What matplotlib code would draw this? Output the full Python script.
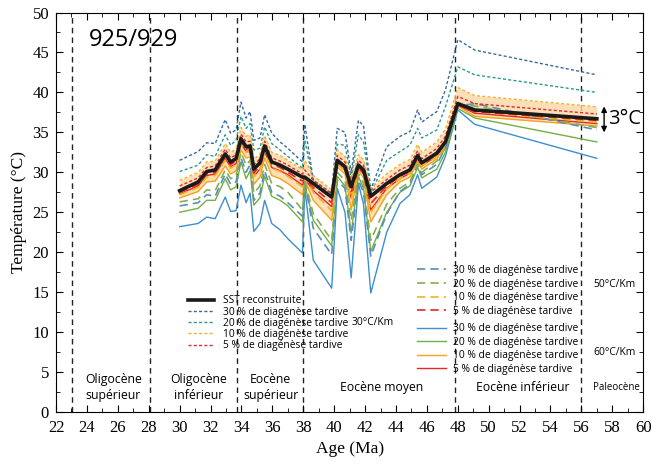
import matplotlib
matplotlib.use('Agg')
import matplotlib.pyplot as plt
from matplotlib.ticker import MultipleLocator

ages = [30.0, 31.2, 31.75, 32.3, 32.95, 33.3, 33.65, 33.97, 34.3, 34.56, 34.8, 35.2,
        35.5, 35.96, 36.5, 37.0, 37.95, 38.1, 38.65, 39.84, 40.2, 40.7, 41.1, 41.57,
        41.9, 42.37, 43.4, 44.26, 44.9, 45.4, 45.67, 46.64, 47.2, 48.0, 49.1, 57.0]

sst = [27.7, 28.8, 30.1, 30.3, 32.3, 31.3, 31.7, 34.2, 33.2, 33.3, 30.4, 31.2,
       33.3, 31.3, 30.9, 30.4, 29.4, 29.4, 28.6, 26.9, 31.5, 30.7, 28.2, 30.9,
       30.3, 27.0, 28.6, 29.7, 30.3, 32.1, 31.2, 32.4, 33.8, 38.6, 37.8, 36.7]

# 30 C/Km (dotted)
dot30 = [31.5, 32.6, 33.7, 33.6, 36.6, 34.9, 35.3, 38.8, 36.8, 37.6, 34.0, 34.3,
         37.2, 34.9, 33.8, 33.0, 31.3, 36.0, 29.0, 27.4, 35.5, 35.0, 29.9, 36.5,
         35.8, 27.8, 33.2, 34.5, 35.1, 37.8, 36.3, 37.6, 40.3, 46.6, 45.3, 42.2]
dot20 = [30.1, 30.9, 32.2, 32.0, 34.7, 33.4, 34.0, 37.0, 35.5, 36.1, 32.8, 33.0,
         35.7, 33.6, 32.8, 32.0, 30.5, 34.0, 28.8, 27.0, 33.5, 33.4, 29.3, 34.7,
         33.8, 27.5, 31.5, 32.6, 33.4, 35.5, 34.3, 35.3, 38.2, 43.2, 42.2, 40.0]
dot10 = [29.0, 30.0, 31.3, 31.4, 33.6, 32.5, 32.9, 35.6, 34.5, 34.7, 31.6, 32.3,
         34.6, 32.5, 32.1, 31.5, 30.3, 31.5, 29.6, 27.8, 32.8, 32.0, 29.2, 32.2,
         31.6, 28.0, 29.8, 31.0, 31.6, 33.5, 32.5, 33.8, 35.4, 40.6, 39.6, 38.2]
dot5 = [28.3, 29.3, 30.6, 30.8, 32.9, 31.8, 32.2, 34.8, 33.8, 33.9, 30.9, 31.7,
        33.9, 31.8, 31.4, 30.9, 29.8, 30.3, 29.0, 27.3, 32.1, 31.3, 28.7, 31.5,
        30.9, 27.5, 29.1, 30.3, 30.9, 32.7, 31.7, 33.0, 34.5, 39.5, 38.6, 37.3]

# 50 C/Km (dashed)
dash30 = [25.8, 26.2, 27.2, 27.0, 29.8, 28.5, 28.8, 31.8, 30.0, 31.0, 26.5, 27.4,
          30.2, 27.5, 27.0, 26.2, 24.5, 28.7, 23.0, 19.7, 29.0, 28.0, 21.5, 29.0,
          27.5, 19.5, 24.8, 27.6, 28.5, 31.0, 29.7, 31.0, 33.0, 38.3, 38.6, 35.3]
dash20 = [26.3, 26.7, 27.8, 27.7, 30.3, 29.2, 29.5, 32.5, 30.9, 31.5, 27.4, 28.3,
          31.0, 28.6, 28.2, 27.5, 25.3, 29.0, 24.8, 21.5, 30.0, 29.0, 24.0, 29.8,
          28.6, 21.5, 26.0, 28.0, 28.8, 31.0, 30.0, 31.4, 33.0, 38.5, 38.3, 35.6]
dash10 = [27.2, 28.1, 29.4, 29.6, 31.5, 30.5, 31.0, 33.6, 32.5, 32.6, 29.4, 30.3,
          32.6, 30.5, 30.1, 29.5, 28.2, 29.3, 27.5, 25.2, 31.1, 30.2, 26.6, 30.6,
          29.8, 25.0, 27.9, 29.2, 29.9, 31.8, 30.8, 32.0, 33.5, 38.8, 37.6, 36.3]
dash5 = [27.5, 28.5, 29.8, 30.0, 32.0, 31.0, 31.4, 33.9, 32.9, 33.0, 29.9, 30.8,
         33.0, 31.0, 30.6, 30.0, 28.9, 29.3, 28.1, 26.2, 31.3, 30.5, 27.5, 30.7,
         30.0, 26.1, 28.3, 29.5, 30.1, 31.9, 31.0, 32.2, 33.6, 38.5, 37.6, 36.5]

# 60 C/Km (solid)
sol30 = [23.2, 23.6, 24.4, 24.2, 26.9, 25.1, 25.2, 28.4, 26.2, 27.4, 22.6, 23.6,
         26.5, 23.6, 22.8, 21.7, 19.9, 28.0, 19.0, 15.5, 28.0, 25.0, 16.8, 28.6,
         26.0, 14.9, 22.5, 26.1, 27.2, 29.7, 28.0, 29.4, 32.0, 37.8, 36.0, 31.75]
sol20 = [25.0, 25.5, 26.5, 26.5, 29.2, 27.8, 28.2, 31.3, 29.2, 30.2, 25.9, 26.8,
         29.5, 27.0, 26.5, 25.8, 23.8, 28.5, 24.0, 20.8, 29.5, 28.3, 22.4, 29.5,
         28.0, 20.1, 25.0, 27.5, 28.3, 30.6, 29.3, 30.4, 32.5, 38.0, 36.8, 33.8]
sol10 = [26.8, 27.6, 28.8, 28.9, 30.8, 29.8, 30.2, 32.8, 31.8, 31.9, 28.5, 29.4,
         31.8, 29.6, 29.2, 28.6, 27.2, 29.0, 26.5, 24.0, 30.7, 29.8, 25.3, 30.2,
         29.3, 23.8, 27.2, 28.8, 29.4, 31.4, 30.4, 31.7, 33.3, 38.3, 37.0, 35.8]
sol5 = [27.3, 28.3, 29.6, 29.8, 31.7, 30.7, 31.1, 33.6, 32.6, 32.7, 29.5, 30.4,
        32.6, 30.6, 30.2, 29.7, 28.4, 29.2, 27.7, 25.7, 31.1, 30.3, 26.8, 30.5,
        29.8, 25.3, 28.0, 29.2, 29.9, 31.7, 30.8, 32.1, 33.5, 38.4, 37.4, 36.1]

boundaries = [23.03, 28.1, 33.7, 38.0, 47.8, 56.0]
periods = ['Oligocène\nsupérieur', 'Oligocène\ninférieur', 'Eocène\nsupérieur',
           'Eocène moyen', 'Eocène inférieur', 'Paleocène']
period_x = [25.7, 31.2, 35.9, 43.1, 52.2, 58.3]

blue = '#3d8fcf'
teal = '#2b9a8a'
dblue = '#35699e'
green = '#72b043'
yellow = '#ecb81c'
orange = '#f7a21b'
red = '#e5262b'
sans = 'Open Sans'
serif = 'Liberation Serif'

fig = plt.figure(figsize=(6.53, 4.72), dpi=100)
ax = fig.add_axes([0.0858, 0.127, 0.8992, 0.8465])

for b in boundaries:
    ax.axvline(b, color='#222222', lw=1.0, ls=(0, (4, 3)), zorder=1)

ax.fill_between(ages, sol10, dot10, color='#fbd8a6', alpha=0.8, lw=0, zorder=2)

dsh = (0, (5, 3))
dt = (0, (2.2, 1.6))
h_sol = []
h_sol.append(ax.plot(ages, sol30, color=blue, lw=1.0, zorder=3)[0])
h_sol.append(ax.plot(ages, sol20, color=green, lw=1.0, zorder=3)[0])
h_sol.append(ax.plot(ages, sol10, color=orange, lw=1.0, zorder=3)[0])
h_sol.append(ax.plot(ages, sol5, color=red, lw=1.0, zorder=3)[0])
h_dash = []
h_dash.append(ax.plot(ages, dash30, color='#5a8db8', lw=1.2, ls=dsh, zorder=3)[0])
h_dash.append(ax.plot(ages, dash20, color='#86ae55', lw=1.2, ls=dsh, zorder=3)[0])
h_dash.append(ax.plot(ages, dash10, color=yellow, lw=1.2, ls=dsh, zorder=3)[0])
h_dash.append(ax.plot(ages, dash5, color=red, lw=1.2, ls=dsh, zorder=3)[0])
h_dot = []
h_dot.append(ax.plot(ages, dot30, color=dblue, lw=1.0, ls=dt, zorder=3)[0])
h_dot.append(ax.plot(ages, dot20, color=teal, lw=1.0, ls=dt, zorder=3)[0])
h_dot.append(ax.plot(ages, dot10, color='#f2b233', lw=1.0, ls=dt, zorder=3)[0])
h_dot.append(ax.plot(ages, dot5, color=red, lw=1.0, ls=dt, zorder=3)[0])
h_sst = ax.plot(ages, sst, color='#1a1a1a', lw=2.6, zorder=5)[0]

labs = ['30 % de diagénèse tardive', '20 % de diagénèse tardive',
        '10 % de diagénèse tardive', '5 % de diagénèse tardive']
lfont = {'family': sans, 'size': 7.4}

leg1 = ax.legend([h_sst] + h_dot, ['SST reconstruite'] + labs, loc='upper left',
                 bbox_to_anchor=(0.225, 0.292), frameon=False, prop=lfont,
                 handlelength=2.5, handletextpad=0.9, labelspacing=0.02,
                 borderpad=0, borderaxespad=0)
ax.add_artist(leg1)
leg2 = ax.legend(h_dash, labs, loc='upper left', bbox_to_anchor=(0.615, 0.368),
                 frameon=False, prop=lfont, handlelength=2.8, handletextpad=0.7,
                 labelspacing=0.25, borderpad=0, borderaxespad=0)
ax.add_artist(leg2)
ax.legend(h_sol, labs, loc='upper left', bbox_to_anchor=(0.615, 0.222),
          frameon=False, prop=lfont, handlelength=2.8, handletextpad=0.7,
          labelspacing=0.25, borderpad=0, borderaxespad=0)

ax.text(41.1, 11.25, '30°C/Km', fontsize=7.4, family=sans, ha='left', va='center')
ax.text(56.76, 15.9, '50°C/Km', fontsize=7.4, family=sans, ha='left', va='center')
ax.text(56.8, 7.5, '60°C/Km', fontsize=7.4, family=sans, ha='left', va='center')

for name, px in zip(periods, period_x):
    fs = 7 if name == 'Paleocène' else 8.8
    ax.text(px, 3.1, name, fontsize=fs, family=sans, ha='center', va='center',
            linespacing=1.35)

ax.text(24.14, 46.5, '925/929', fontsize=17, family=sans, va='center')

ax.annotate('', xy=(57.47, 38.25), xytext=(57.47, 35.0),
            arrowprops=dict(arrowstyle='<|-|>', color='black', lw=1.0,
                            mutation_scale=8, shrinkA=0, shrinkB=0))
ax.text(57.75, 36.65, '3°C', fontsize=14.5, family=sans, va='center')

ax.set_xlim(22, 60)
ax.set_ylim(0, 50)
ax.xaxis.set_major_locator(MultipleLocator(2))
ax.xaxis.set_minor_locator(MultipleLocator(1))
ax.yaxis.set_major_locator(MultipleLocator(5))
ax.yaxis.set_minor_locator(MultipleLocator(2.5))
ax.tick_params(which='both', direction='in', top=True, right=True)
ax.tick_params(which='major', length=5, labelsize=12)
ax.tick_params(which='minor', length=3)
ax.tick_params(axis='x', pad=6)
ax.tick_params(axis='y', pad=5)
for t in ax.get_xticklabels() + ax.get_yticklabels():
    t.set_family(serif)
ax.set_xlabel('Age (Ma)', family=serif, fontsize=12.5, labelpad=3)
ax.set_ylabel('Température (°C)', family=serif, fontsize=12.5, labelpad=4)
for s in ax.spines.values():
    s.set_linewidth(0.8)

fig.savefig('out.png', dpi=100)
